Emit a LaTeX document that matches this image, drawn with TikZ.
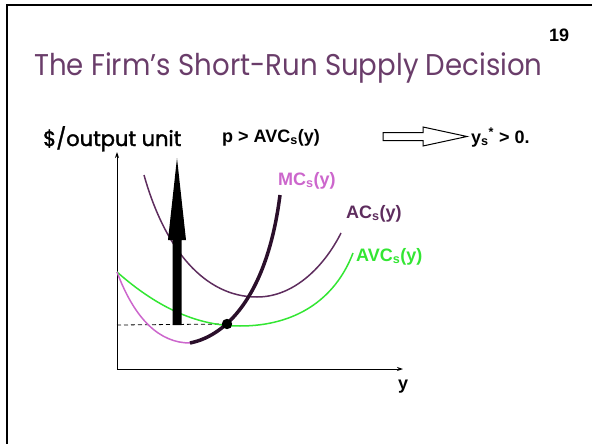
\documentclass[tikz,border=0pt]{standalone}
\usepackage{fontspec}
\setmainfont{Liberation Sans}
\newfontfamily\titlefont{Poppins}[FakeStretch=0.92]
\newfontfamily\unitfont{Poppins}[FakeBold=1.6]
\usetikzlibrary{arrows.meta}
\definecolor{ttl}{HTML}{6A3D6A}
\definecolor{acc}{HTML}{5E2D5E}
\definecolor{mcthin}{HTML}{CC66CC}
\definecolor{mcthick}{HTML}{2B0F2B}
\definecolor{avc}{HTML}{33E633}
\tikzset{
  lbl/.style={inner sep=0pt,anchor=base west,font=\fontsize{18}{20}\selectfont\bfseries},
  axisline/.style={line width=0.9pt,-{Stealth[length=6pt,width=4pt]}},
  curve/.style={line width=1.5pt},
}
\begin{document}
\begin{tikzpicture}[x=1pt,y=-1pt]
\useasboundingbox (0,0) rectangle (592,444);
% frame
\draw[line width=2.5pt] (7,444) -- (7,5) -- (592,5);
% title
\node[inner sep=0pt,anchor=base west,text=ttl,font=\titlefont\fontsize{30}{34}\selectfont] (title) at (34,76) {The Firm’s Short-Run Supply Decision};
\node[inner sep=0pt,anchor=base west,font=\fontsize{18}{20}\selectfont\bfseries] (num) at (549,42) {19};
% top labels
\node[inner sep=0pt,anchor=base west,font=\unitfont\fontsize{21}{24}\selectfont] (ylab) at (43,146) {\$/output unit};
\node[lbl] (cond) at (222,142) {p > AVC\textsubscript{s}(y)};
\draw[line width=1pt,fill=white] (383,132.5) -- (423,132.5) -- (423,127) -- (467,136.5) -- (423,146) -- (423,140.5) -- (383,140.5) -- cycle;
\node[lbl] (res) at (471,143) {y\textsubscript{s}\textsuperscript{*} > 0.};
% axes
\coordinate (O) at (117,369);
\coordinate (Ytop) at (117,152);
\coordinate (Xend) at (403,369);
\draw[axisline] (O) -- (Ytop);
\draw[axisline] (O) -- (Xend);
\node[lbl] (xlab) at (398,389) {y};
% dashed
\coordinate (dl) at (117,325);
\coordinate (E) at (227,324);
\draw[dashed,line width=0.8pt,dash pattern=on 4pt off 3pt] (dl) -- (E);
% AVC
\draw[curve,avc] (117,272) .. controls (160,310) and (200,326) .. (240,326) .. controls (295,326) and (335,300) .. (353,253);
% AC
\draw[curve,acc] (144,175) .. controls (165,250) and (205,297) .. (257,297) .. controls (295,297) and (325,265) .. (341,233);
% MC thin
\draw[curve,mcthin] (117,272) .. controls (135,320) and (160,343) .. (190,343);
% MC thick
\draw[line width=3.5pt,mcthick] (190,343) .. controls (230,335) and (268,290) .. (280,195);
% big arrow
\fill (172.5,325) -- (172.5,240) -- (168,240) -- (177,158) -- (186,240) -- (181.5,240) -- (181.5,325) -- cycle;
% dot
\fill (E) circle (5.2pt);
% curve labels
\node[lbl,text=mcthin] (mclab) at (278,185) {MC\textsubscript{s}(y)};
\node[lbl,text=acc] (aclab) at (346,218) {AC\textsubscript{s}(y)};
\node[lbl,text=avc] (avclab) at (356,261) {AVC\textsubscript{s}(y)};
\end{tikzpicture}
\end{document}
